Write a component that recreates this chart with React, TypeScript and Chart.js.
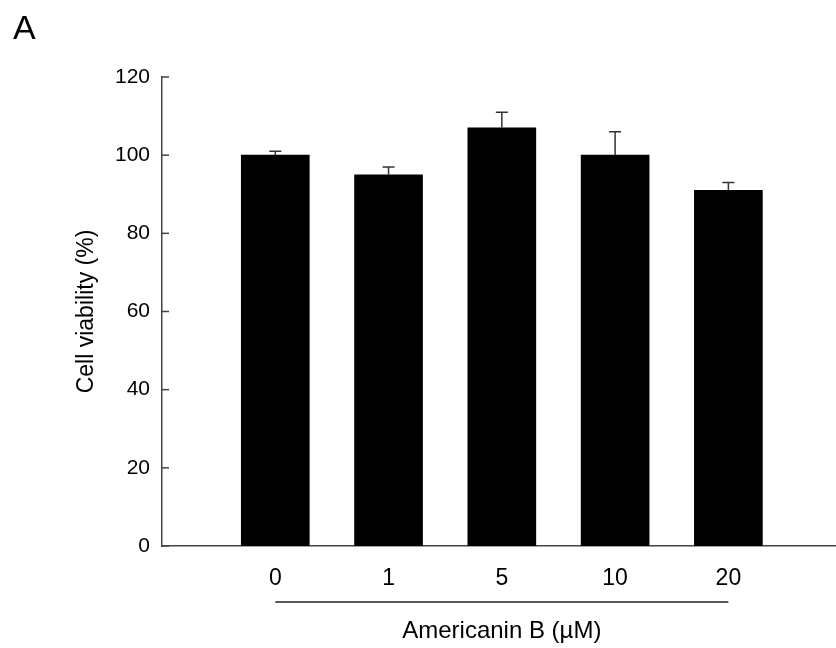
import React, { useEffect, useRef } from "react";
import { Chart, registerables } from "chart.js";

Chart.register(...registerables);

const categories = ["0", "1", "5", "10", "20"];
const viability = [100, 95, 107, 100, 91];
const errors = [1, 2, 4, 6, 2];
const yTicks = [0, 20, 40, 60, 80, 100, 120];
const panelLabel = "A";
const yTitle = "Cell viability (%)";
const xTitle = "Americanin B (\u00b5M)";

const FONT = "'Liberation Sans', Arial, Helvetica, sans-serif";

const decorPlugin = {
  id: "decor",
  afterDatasetsDraw(chart: any) {
    const ctx = chart.ctx;
    const ys = chart.scales.y;
    const meta = chart.getDatasetMeta(0);
    ctx.save();
    ctx.strokeStyle = "#333";
    ctx.lineWidth = 1.5;
    meta.data.forEach((bar: any, i: number) => {
      const x = bar.x;
      const yTop = ys.getPixelForValue(viability[i]);
      const yErr = ys.getPixelForValue(viability[i] + errors[i]);
      ctx.beginPath();
      ctx.moveTo(x, yTop);
      ctx.lineTo(x, yErr);
      ctx.moveTo(x - 6, yErr);
      ctx.lineTo(x + 6, yErr);
      ctx.stroke();
    });
    ctx.restore();
  },
  afterDraw(chart: any) {
    const ctx = chart.ctx;
    const xs = chart.scales.x;
    const ys = chart.scales.y;
    const area = chart.chartArea;
    ctx.save();
    ctx.strokeStyle = "#444";
    ctx.lineWidth = 1.5;
    yTicks.forEach((v) => {
      const y = ys.getPixelForValue(v);
      ctx.beginPath();
      ctx.moveTo(area.left, y);
      ctx.lineTo(area.left + 7, y);
      ctx.stroke();
    });
    const x0 = xs.getPixelForValue(1);
    const x1 = xs.getPixelForValue(categories.length);
    ctx.strokeStyle = "#222";
    ctx.lineWidth = 1.5;
    ctx.beginPath();
    ctx.moveTo(x0, 602);
    ctx.lineTo(x1, 602);
    ctx.stroke();
    ctx.fillStyle = "#000";
    ctx.font = `24px ${FONT}`;
    ctx.textAlign = "center";
    ctx.textBaseline = "middle";
    ctx.fillText(xTitle, (x0 + x1) / 2, 631);
    ctx.save();
    ctx.translate(87, (area.top + area.bottom) / 2);
    ctx.rotate(-Math.PI / 2);
    ctx.font = `23px ${FONT}`;
    ctx.fillText(yTitle, 0, 0);
    ctx.restore();
    ctx.font = `34px ${FONT}`;
    ctx.textAlign = "left";
    ctx.textBaseline = "alphabetic";
    ctx.fillText(panelLabel, 13, 39);
    ctx.restore();
  },
};

export default function App() {
  const ref = useRef<HTMLCanvasElement>(null);
  useEffect(() => {
    if (!ref.current) return;
    const chart = new Chart(ref.current, {
      type: "bar",
      data: {
        datasets: [
          {
            data: categories.map((c, i) => ({ x: i + 1, y: viability[i] })),
            backgroundColor: "#000",
            borderWidth: 0,
            barThickness: 68,
          },
        ],
      },
      options: {
        responsive: false,
        animation: false,
        layout: { padding: { top: 77, right: 0, left: 0, bottom: 0 } },
        plugins: { legend: { display: false }, tooltip: { enabled: false } },
        scales: {
          x: {
            type: "linear",
            offset: false,
            min: 0,
            max: 5.95,
            afterBuildTicks: (s: any) => {
              s.ticks = categories.map((_, i) => ({ value: i + 1 }));
            },
            afterFit: (s: any) => {
              s.height = 102;
            },
            ticks: {
              callback: (v: any) => categories[Number(v) - 1] ?? "",
              font: { size: 23, family: FONT },
              color: "#000",
              padding: 19,
              maxRotation: 0,
              autoSkip: false,
            },
            grid: { display: false, drawTicks: false, offset: false },
            border: { display: true, color: "#444", width: 1.5 },
          },
          y: {
            min: 0,
            max: 120,
            afterBuildTicks: (s: any) => {
              s.ticks = yTicks.map((v) => ({ value: v }));
            },
            afterFit: (s: any) => {
              s.width = 162;
            },
            ticks: {
              font: { size: 21, family: FONT },
              color: "#000",
              padding: 12,
            },
            grid: { display: false, drawTicks: false },
            border: { display: true, color: "#444", width: 1.5 },
          },
        },
      } as any,
      plugins: [decorPlugin],
    });
    return () => chart.destroy();
  }, []);
  return (
    <div style={{ position: "absolute", left: 0, top: 0, width: 836, height: 648, background: "#fff" }}>
      <canvas ref={ref} width={836} height={648} />
    </div>
  );
}
